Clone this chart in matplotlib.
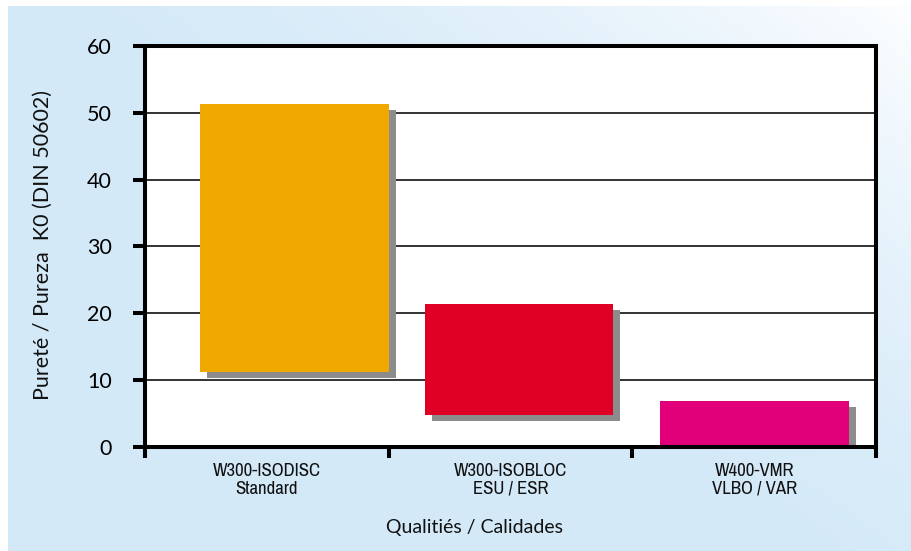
import numpy as np
import matplotlib.pyplot as plt
from matplotlib import font_manager
from matplotlib.transforms import ScaledTranslation

# data (floating range bars)
categories = ["W300-ISODISC\nStandard", "W300-ISOBLOC\nESU / ESR", "W400-VMR\nVLBO / VAR"]
k0_low = [11.2, 4.8, 0.0]
k0_high = [51.3, 21.4, 6.9]
y_ticks = [0, 10, 20, 30, 40, 50, 60]

bar_colors = ["#f0a800", "#e00025", "#e2007a"]
shadow_color = "#8c8c8c"
bar_shift = [0.115, 0.035, 0.0]   # bars sit slightly right of each category centre
bar_width = 0.775

# pick a narrow face for the category labels if one is installed
narrow = [f.name for f in font_manager.fontManager.ttflist
          if "Narrow" in f.name or "Condensed" in f.name]
cat_font = [narrow[0], "DejaVu Sans"] if narrow else ["DejaVu Sans"]
cat_stretch = "normal" if narrow else "condensed"

fig = plt.figure(figsize=(9.12, 5.51), dpi=100)
fig.patch.set_facecolor("white")

# light blue diagonal gradient panel behind everything
bg = fig.add_axes([8 / 912, 0, 1 - 8 / 912, 1 - 6 / 551], zorder=-10)
gx, gy = np.meshgrid(np.linspace(0, 1, 300), np.linspace(0, 1, 200))
t = np.clip((gx * 0.55 + gy * 0.45 - 0.45) / 0.55, 0, 1) ** 1.6
c0 = np.array([0.83, 0.914, 0.972])
c1 = np.array([0.99, 0.995, 1.0])
grad = c0 + (c1 - c0) * t[..., None]
bg.imshow(grad, origin="lower", aspect="auto", extent=[0, 1, 0, 1])
bg.set_axis_off()

ax = fig.add_axes([145 / 912, 1 - 446.7 / 551, (876 - 145) / 912, (446.7 - 46) / 551])
ax.set_facecolor("white")

x = np.arange(len(categories)) + 0.5 + np.array(bar_shift)
heights = np.array(k0_high) - np.array(k0_low)

shadow_tr = ax.transData + ScaledTranslation(7 / 100, -6 / 100, fig.dpi_scale_trans)
ax.bar(x, heights, bottom=k0_low, width=bar_width, color=shadow_color,
       transform=shadow_tr, zorder=2)
ax.bar(x, heights, bottom=k0_low, width=bar_width, color=bar_colors, zorder=3)

for v in y_ticks[1:-1]:
    ax.axhline(v, color="#222222", lw=1.3, zorder=1)

ax.set_xlim(0, 3)
ax.set_ylim(0, 60)
ax.set_yticks(y_ticks)
ax.set_yticklabels([str(v) for v in y_ticks], fontsize=15.5, family="Lato")
ax.set_xticks([0, 1, 2, 3])
ax.set_xticklabels([])
ax.tick_params(axis="y", length=8.5, width=2.9, pad=15.5)
ax.tick_params(axis="x", length=8, width=2.9)
for s in ax.spines.values():
    s.set_linewidth(2.9)
    s.set_zorder(5)

for i, lab in enumerate(categories):
    ax.text(i + 0.5, -2.5, lab, ha="center", va="top", fontsize=13.5,
            family=cat_font, fontstretch=cat_stretch,
            transform=ax.transData, linespacing=1.1, color="#111111")

fig.text(43 / 912, 1 - 245 / 551, "Pureté / Pureza  K0 (DIN 50602)", rotation=90,
         ha="center", va="center", fontsize=15.5, family="Lato", color="#111111")
fig.text(475 / 912, 1 - 528 / 551, "Qualitiés / Calidades", ha="center", va="center",
         fontsize=14, family="Lato", color="#111111")

fig.savefig("out.png", dpi=100)
